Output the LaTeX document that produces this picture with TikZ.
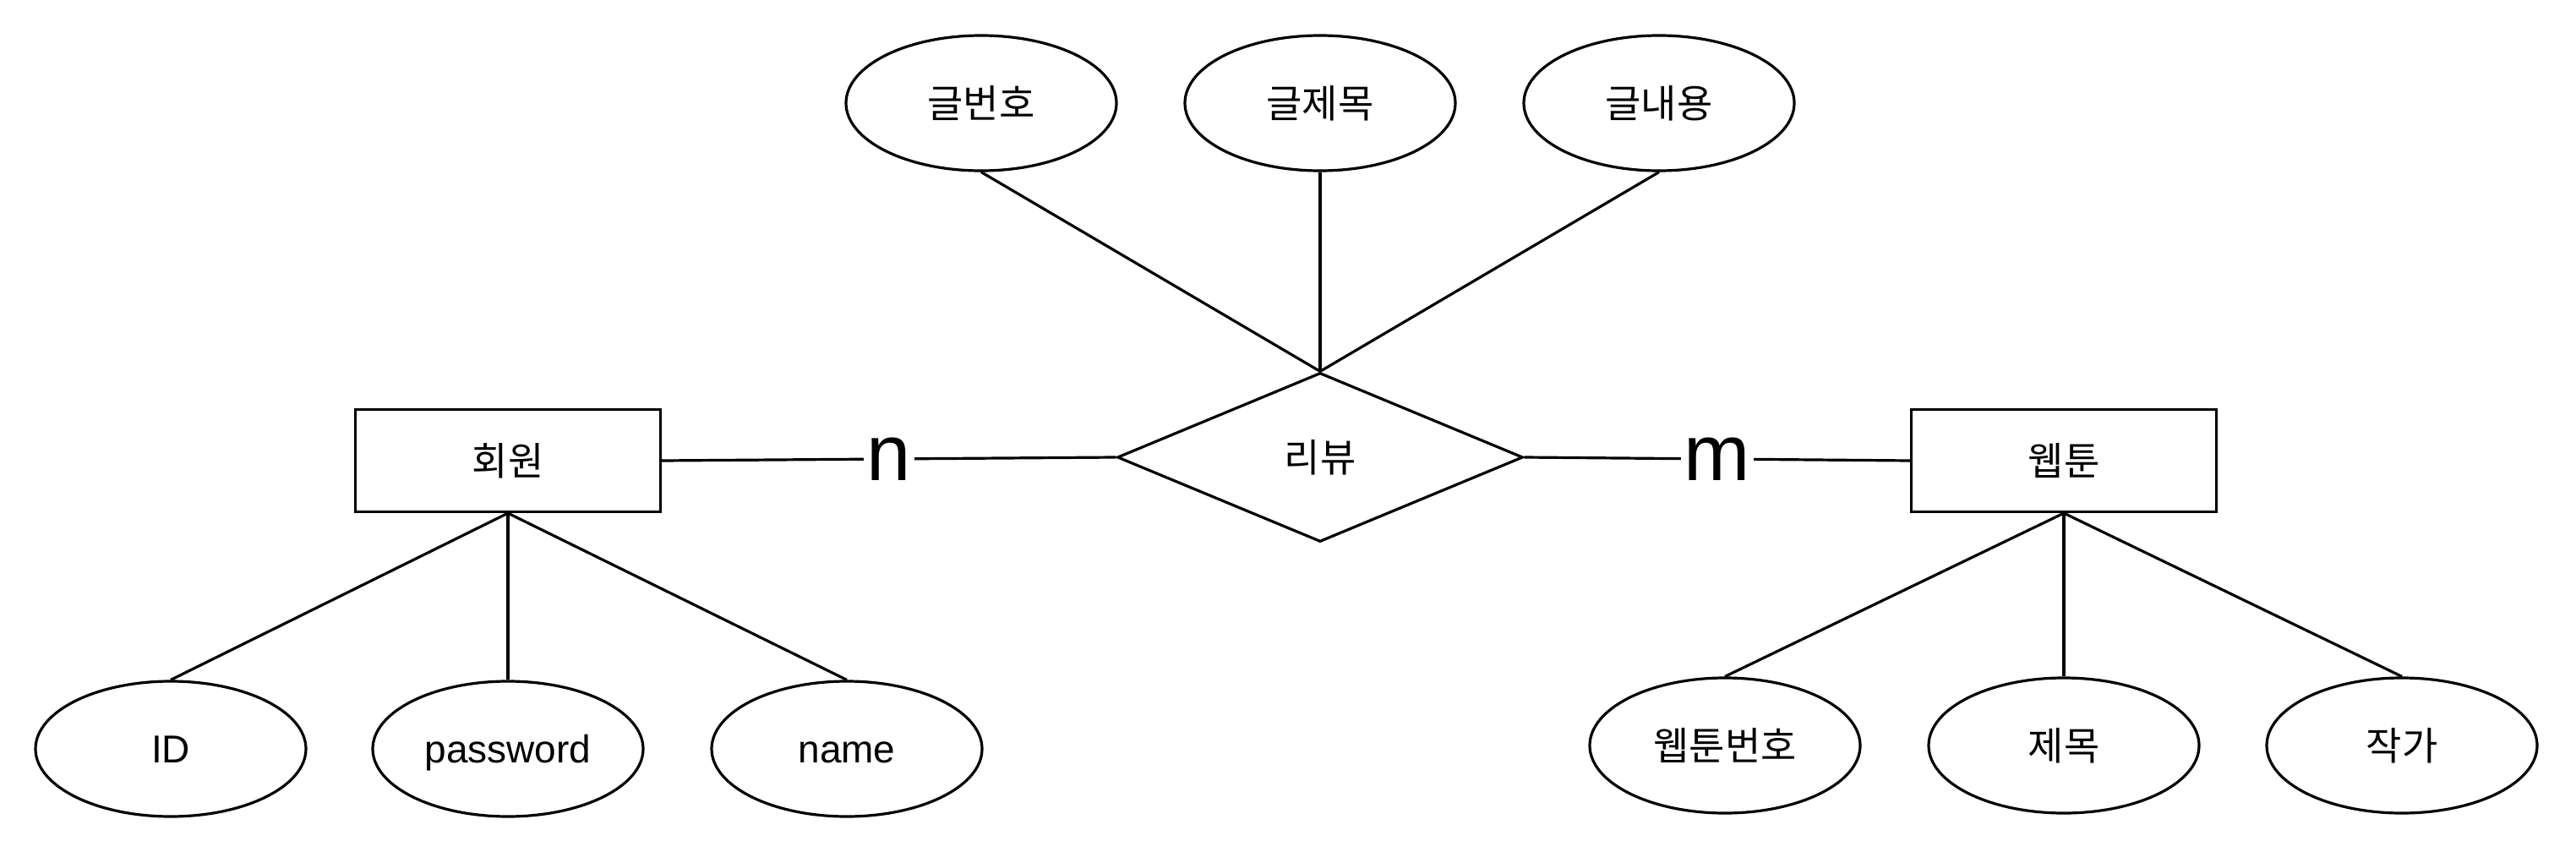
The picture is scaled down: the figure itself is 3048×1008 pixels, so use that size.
\documentclass[tikz,border=0pt]{standalone}
\usepackage{fontspec}
\setmainfont{Liberation Sans}
\newfontfamily\kr{Noto Sans CJK KR}
\usetikzlibrary{shapes.geometric}
\begin{document}
\begin{tikzpicture}[x=1pt,y=-1pt,
  every node/.style={font=\fontsize{46}{54}\selectfont},
  attr/.style={draw, ellipse, line width=3.2pt, minimum width=320pt, minimum height=160pt, inner sep=0pt},
  latin/.style={text height=33pt, text depth=0pt},
  entity/.style={draw, rectangle, line width=3.2pt, minimum width=361pt, minimum height=121pt, inner sep=0pt},
  rel/.style={draw, diamond, line width=3.2pt, minimum width=480pt, minimum height=200pt, inner sep=0pt},
  conn/.style={line width=3.2pt},
  card/.style={fill=white, inner sep=4pt, font=\fontsize{94}{100}\selectfont}
]
\useasboundingbox (0,0) rectangle (3048,1008);
\fill[white] (0,0) rectangle (3048,1008);
% relationship
\node[rel] (rv) at (1562,541) {\kr 리뷰};
% entities
\node[entity] (mem) at (601,545) {\kr 회원};
\node[entity] (wt) at (2442,545) {\kr 웹툰};
% top attributes
\node[attr] (a1) at (1161,122) {\kr 글번호};
\node[attr] (a2) at (1562,122) {\kr 글제목};
\node[attr] (a3) at (1963,122) {\kr 글내용};
% member attributes
\node[attr,latin] (b1) at (202,886) {ID};
\node[attr,latin] (b2) at (601,886) {password};
\node[attr,latin] (b3) at (1002,886) {name};
% webtoon attributes
\node[attr] (c1) at (2041,882) {\kr 웹툰번호};
\node[attr] (c2) at (2442,882) {\kr 제목};
\node[attr] (c3) at (2842,882) {\kr 작가};
% connectors
\draw[conn] (a1.south) -- (rv.north);
\draw[conn] (a2.south) -- (rv.north);
\draw[conn] (a3.south) -- (rv.north);
\draw[conn] (mem.south) -- (b1.north);
\draw[conn] (mem.south) -- (b2.north);
\draw[conn] (mem.south) -- (b3.north);
\draw[conn] (wt.south) -- (c1.north);
\draw[conn] (wt.south) -- (c2.north);
\draw[conn] (wt.south) -- (c3.north);
\draw[conn] (mem.east) -- node[card] {n} (rv.west);
\draw[conn] (rv.east) -- node[card] {m} (wt.west);
\end{tikzpicture}
\end{document}
